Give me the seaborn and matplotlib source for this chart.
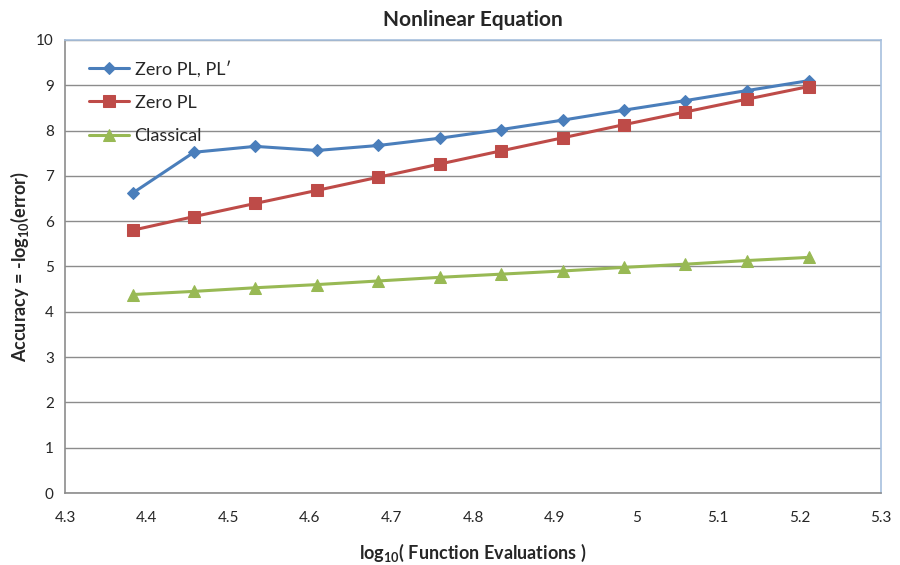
import numpy as np
import pandas as pd
import matplotlib
matplotlib.use("Agg")
import matplotlib.pyplot as plt
import seaborn as sns

# log10 of function evaluations
log_evals = [4.383, 4.458, 4.533, 4.609, 4.684, 4.759, 4.834, 4.910, 4.985, 5.060, 5.135, 5.211]

zero_pl_plp = [6.62, 7.52, 7.65, 7.56, 7.67, 7.83, 8.02, 8.23, 8.45, 8.66, 8.88, 9.10]
zero_pl = [5.80, 6.10, 6.39, 6.68, 6.97, 7.26, 7.55, 7.84, 8.13, 8.41, 8.69, 8.97]
classical = [4.38, 4.45, 4.53, 4.60, 4.68, 4.76, 4.83, 4.90, 4.98, 5.05, 5.13, 5.20]

series_names = ["Zero PL, PL\u02b9", "Zero PL", "Classical"]
colors = ["#4a7ebb", "#be4b48", "#98b954"]
markers = ["D", "s", "^"]
msizes = [6, 8, 8]

df = pd.DataFrame({
    "x": log_evals * 3,
    "y": zero_pl_plp + zero_pl + classical,
    "series": [s for s in series_names for _ in log_evals],
})

sns.set_style("white")
plt.rcParams['font.family'] = ['Lato', 'DejaVu Sans']
plt.rcParams['mathtext.fontset'] = 'custom'
plt.rcParams['mathtext.rm'] = 'Lato'
plt.rcParams['mathtext.bf'] = 'Lato:bold'

fig = plt.figure(figsize=(9, 5.65), dpi=100)
ax = fig.add_axes([0.0722, 0.1274, 0.907, 0.802])

for name, c, m, ms in zip(series_names, colors, markers, msizes):
    sub = df[df["series"] == name]
    sns.lineplot(data=sub, x="x", y="y", ax=ax, color=c, marker=m, markersize=ms,
                 markeredgecolor=c, linewidth=2.2, label=name)

ax.set_xlim(4.3, 5.3)
ax.set_ylim(0, 10)
ax.set_xticks(np.arange(4.3, 5.31, 0.1))
ax.set_xticklabels(["4.3", "4.4", "4.5", "4.6", "4.7", "4.8", "4.9", "5", "5.1", "5.2", "5.3"])
ax.set_yticks(range(0, 11))
ax.yaxis.grid(True, color="#8c8c8c", linewidth=1)
ax.set_axisbelow(True)
ax.tick_params(axis="x", direction="out", length=5, color="#8c8c8c", labelsize=11, pad=8)
ax.tick_params(axis="y", direction="out", length=0, labelsize=11, pad=8)
ax.spines["left"].set_color("#8c8c8c")
ax.spines["bottom"].set_color("#8c8c8c")
ax.spines["top"].set_color("#a7c0de")
ax.spines["right"].set_color("#a7c0de")
for s in ax.spines.values():
    s.set_linewidth(1.2)

ax.set_xlabel(r"$\mathbf{log_{10}}$( Function Evaluations )", fontsize=13, fontweight="bold", labelpad=12)
ax.set_ylabel(r"Accuracy = -$\mathbf{log_{10}}$(error)", fontsize=13, fontweight="bold", labelpad=4)
ax.set_title("Nonlinear Equation", fontsize=15, fontweight="bold", pad=10)

leg = ax.legend(loc="upper left", bbox_to_anchor=(0.01, 0.99), frameon=False,
                fontsize=13, labelspacing=0.95, handlelength=2.2, handletextpad=0.3)

fig.savefig("out.png", dpi=100)
